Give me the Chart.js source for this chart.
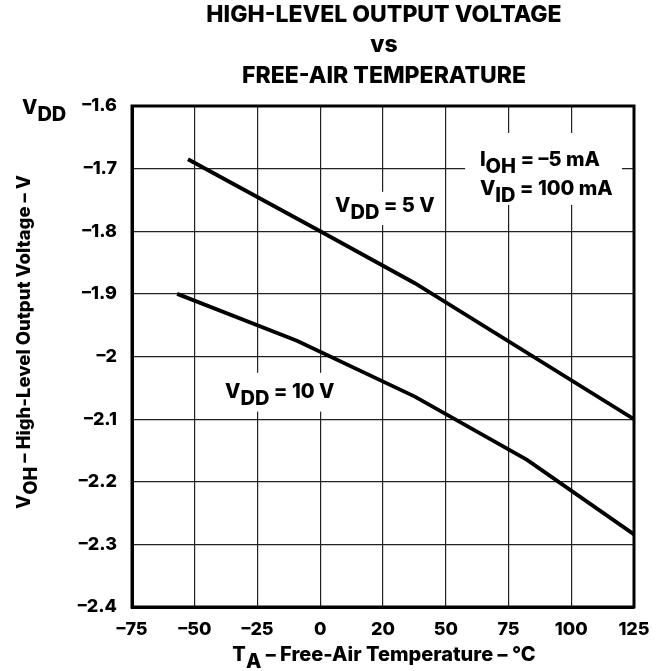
<!DOCTYPE html>
<html>
<head>
<meta charset="utf-8">
<script src="https://cdn.jsdelivr.net/npm/chart.js@4.4.1/dist/chart.umd.min.js"></script>
<style>
  html, body { margin: 0; padding: 0; background: #fff; }
  #wrap { width: 662px; height: 671px; }
</style>
</head>
<body>
<div id="wrap"><canvas id="chart" width="662" height="671"></canvas></div>
<script>
// --- data ---
const xTicks = [-75, -50, -25, 0, 25, 50, 75, 100, 125];
const xTickLabels = ['–75', '–50', '–25', '0', '20', '50', '75', '100', '125'];
const yTicks = [-2.4, -2.3, -2.2, -2.1, -2.0, -1.9, -1.8, -1.7, -1.6];
const yTickLabels = ['–2.4', '–2.3', '–2.2', '–2.1', '–2', '–1.9', '–1.8', '–1.7', '–1.6'];

const vdd5Temp = [-52.7, 0, 37.7, 125];
const vdd5Volt = [-1.685, -1.8, -1.883, -2.1];
const vdd10Temp = [-57, -9.3, 37.7, 82.4, 125];
const vdd10Volt = [-1.900, -1.975, -2.064, -2.165, -2.284];

const FONT = 'Inter, "Liberation Sans", Arial, sans-serif';
const W = '800';
const pts = (xs, ys) => xs.map((x, i) => ({ x, y: ys[i] }));

// draws text with subscript parts: parts = [[text, isSub], ...]
function drawRich(ctx, parts, x, y, align, size) {
  ctx.font = `${W} ${size}px ${FONT}`;
  const w = parts.reduce((s, p) => s + ctx.measureText(p[0]).width, 0);
  let cx = align === 'center' ? x - w / 2 : align === 'right' ? x - w : x;
  ctx.textAlign = 'left';
  ctx.textBaseline = 'alphabetic';
  parts.forEach(([t, sub]) => {
    ctx.fillText(t, cx, sub ? y + size * 0.36 : y);
    cx += ctx.measureText(t).width;
  });
  return w;
}

// labels sitting on the grid, anchored in data units
const notes = [
  { x: 63.6, y: -1.696, lines: [[['I', 0], ['OH', 1], [' = –5 mA', 0]], [['V', 0], ['ID', 1], [' = 100 mA', 0]]], box: [57.7, -1.643, 120.2, -1.758] },
  { x: 5.9, y: -1.769, lines: [[['V', 0], ['DD', 1], [' = 5 V', 0]]], box: [3.9, -1.737, 45.8, -1.790] },
  { x: -37.9, y: -2.066, lines: [[['V', 0], ['DD', 1], [' = 10 V', 0]]], box: [-41.9, -2.026, 7.9, -2.088] }
];

const decor = {
  id: 'decor',
  beforeDatasetsDraw(chart) {
    const { ctx, chartArea: a, scales: { x, y } } = chart;
    ctx.save();
    notes.forEach(n => {
      const [x0, y0, x1, y1] = n.box;
      ctx.fillStyle = '#fff';
      ctx.fillRect(x.getPixelForValue(x0), y.getPixelForValue(y0),
        x.getPixelForValue(x1) - x.getPixelForValue(x0), y.getPixelForValue(y1) - y.getPixelForValue(y0));
      ctx.fillStyle = '#000';
      n.lines.forEach((ln, i) => drawRich(ctx, ln, x.getPixelForValue(n.x), y.getPixelForValue(n.y) + i * 29, 'left', 20));
    });
    // frame
    ctx.strokeStyle = '#000';
    ctx.lineWidth = 3;
    ctx.strokeRect(a.left, a.top, a.right - a.left, a.bottom - a.top);
    ctx.restore();
  },
  afterDraw(chart) {
    const { ctx, chartArea: a } = chart;
    const cx = (a.left + a.right) / 2 + 1;
    ctx.save();
    ctx.fillStyle = '#000';
    ctx.font = `${W} 23px ${FONT}`;
    ctx.textAlign = 'center';
    ctx.textBaseline = 'alphabetic';
    ctx.fillText('HIGH-LEVEL OUTPUT VOLTAGE', cx, 22);
    ctx.fillText('vs', cx, 52);
    ctx.fillText('FREE-AIR TEMPERATURE', cx, 83);
    drawRich(ctx, [['V', 0], ['DD', 1]], 22, 114, 'left', 20);
    drawRich(ctx, [['T', 0], ['A', 1], [' – Free-Air Temperature – °C', 0]], cx, 661, 'center', 20);
    ctx.translate(30, 342);
    ctx.rotate(-Math.PI / 2);
    drawRich(ctx, [['V', 0], ['OH', 1], [' – High-Level Output Voltage – V', 0]], 0, 0, 'center', 18.5);
    ctx.restore();
  }
};

const line = (data) => ({
  data, showLine: true, borderColor: '#000', borderWidth: 3.8,
  pointRadius: 0, tension: 0, borderCapStyle: 'butt', fill: false
});

new Chart(document.getElementById('chart'), {
  type: 'scatter',
  data: { datasets: [line(pts(vdd5Temp, vdd5Volt)), line(pts(vdd10Temp, vdd10Volt))] },
  options: {
    responsive: false,
    animation: false,
    layout: { padding: { left: 0, right: 28, top: 106, bottom: 0 } },
    plugins: { legend: { display: false }, tooltip: { enabled: false } },
    scales: {
      x: {
        type: 'linear', min: -75, max: 125,
        afterBuildTicks: s => { s.ticks = xTicks.map(v => ({ value: v })); },
        afterFit: s => { s.height = 64; },
        ticks: { color: '#000', font: { family: FONT, size: 18, weight: W }, padding: 12, maxRotation: 0,
          callback: (v, i) => xTickLabels[i] },
        grid: { color: '#222', lineWidth: 1.2, drawTicks: false },
        border: { color: '#000', width: 3 }
      },
      y: {
        type: 'linear', min: -2.4, max: -1.6,
        afterBuildTicks: s => { s.ticks = yTicks.map(v => ({ value: v })); },
        afterFit: s => { s.width = 132; },
        ticks: { color: '#000', font: { family: FONT, size: 18, weight: W }, padding: 15,
          callback: (v, i) => yTickLabels[i] },
        grid: { color: '#222', lineWidth: 1.2, drawTicks: false },
        border: { color: '#000', width: 3 }
      }
    }
  },
  plugins: [decor]
});
</script>
</body>
</html>
